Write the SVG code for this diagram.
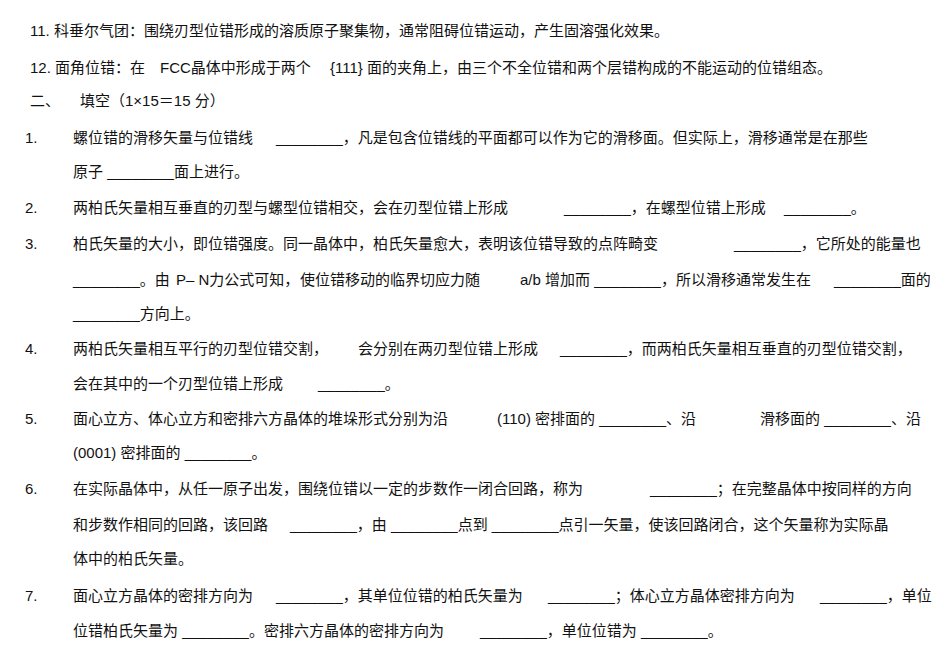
<svg xmlns="http://www.w3.org/2000/svg" width="950" height="671" viewBox="0 0 950 671">
<style>text{font-family:"Liberation Sans","Noto Sans CJK SC",sans-serif;font-size:15px;fill:#111}</style>
<rect width="950" height="671" fill="#fff"/>
<text x="30" y="36">11. 科垂尔气团：围绕刃型位错形成的溶质原子聚集物，通常阻碍位错运动，产生固溶强化效果。</text>
<text x="30" y="73">12. 面角位错：在</text><text x="160" y="73">FCC晶体中形成于两个</text><text x="330" y="73">{111} 面的夹角上，由三个不全位错和两个层错构成的不能运动的位错组态。</text>
<text x="30" y="106">二、</text><text x="80" y="106">填空（1×15＝15 分）</text>
<text x="25" y="143">1.</text><text x="73" y="143">螺位错的滑移矢量与位错线</text><text x="276" y="143">________，凡是包含位错线的平面都可以作为它的滑移面。但实际上，滑移通常是在那些</text>
<text x="73" y="177">原子 ________面上进行。</text>
<text x="25" y="213">2.</text><text x="73" y="213">两柏氏矢量相互垂直的刃型与螺型位错相交，会在刃型位错上形成</text><text x="564" y="213">________，在螺型位错上形成</text><text x="784" y="213">________。</text>
<text x="25" y="249">3.</text><text x="73" y="249">柏氏矢量的大小，即位错强度。同一晶体中，柏氏矢量愈大，表明该位错导致的点阵畸变</text><text x="734" y="249">________，它所处的能量也</text>
<text x="73" y="285">________。由</text><text x="176" y="285">P– N力公式可知，</text><text x="300" y="285">使位错移动的临界切应力随</text><text x="520" y="285">a/b 增加而 ________，所以滑移通常发生在</text><text x="834" y="285">________面的</text>
<text x="73" y="319">________方向上。</text>
<text x="25" y="354">4.</text><text x="73" y="354">两柏氏矢量相互平行的刃型位错交割，</text><text x="358" y="354">会分别在两刃型位错上形成</text><text x="560" y="354">________，而两柏氏矢量相互垂直的刃型位错交割，</text>
<text x="73" y="389">会在其中的一个刃型位错上形成</text><text x="318" y="389">________。</text>
<text x="25" y="424">5.</text><text x="73" y="424">面心立方、体心立方和密排六方晶体的堆垛形式分别为沿</text><text x="497" y="424">(110) 密排面的 ________、沿</text><text x="760" y="424">滑移面的 ________、沿</text>
<text x="73" y="458">(0001) 密排面的 ________。</text>
<text x="25" y="494">6.</text><text x="73" y="494">在实际晶体中，从任一原子出发，围绕位错以一定的步数作一闭合回路，称为</text><text x="650" y="494">________；在完整晶体中按同样的方向</text>
<text x="73" y="530">和步数作相同的回路，该回路</text><text x="290" y="530">________，由 ________点到 ________点引一矢量，使该回路闭合，这个矢量称为实际晶</text>
<text x="73" y="564">体中的柏氏矢量。</text>
<text x="25" y="601">7.</text><text x="73" y="601">面心立方晶体的密排方向为</text><text x="276" y="601">________，其单位位错的柏氏矢量为</text><text x="548" y="601">________；体心立方晶体密排方向为</text><text x="820" y="601">________，单位</text>
<text x="73" y="636">位错柏氏矢量为 ________。密排六方晶体的密排方向为</text><text x="480" y="636">________，单位位错为 ________。</text>
</svg>
